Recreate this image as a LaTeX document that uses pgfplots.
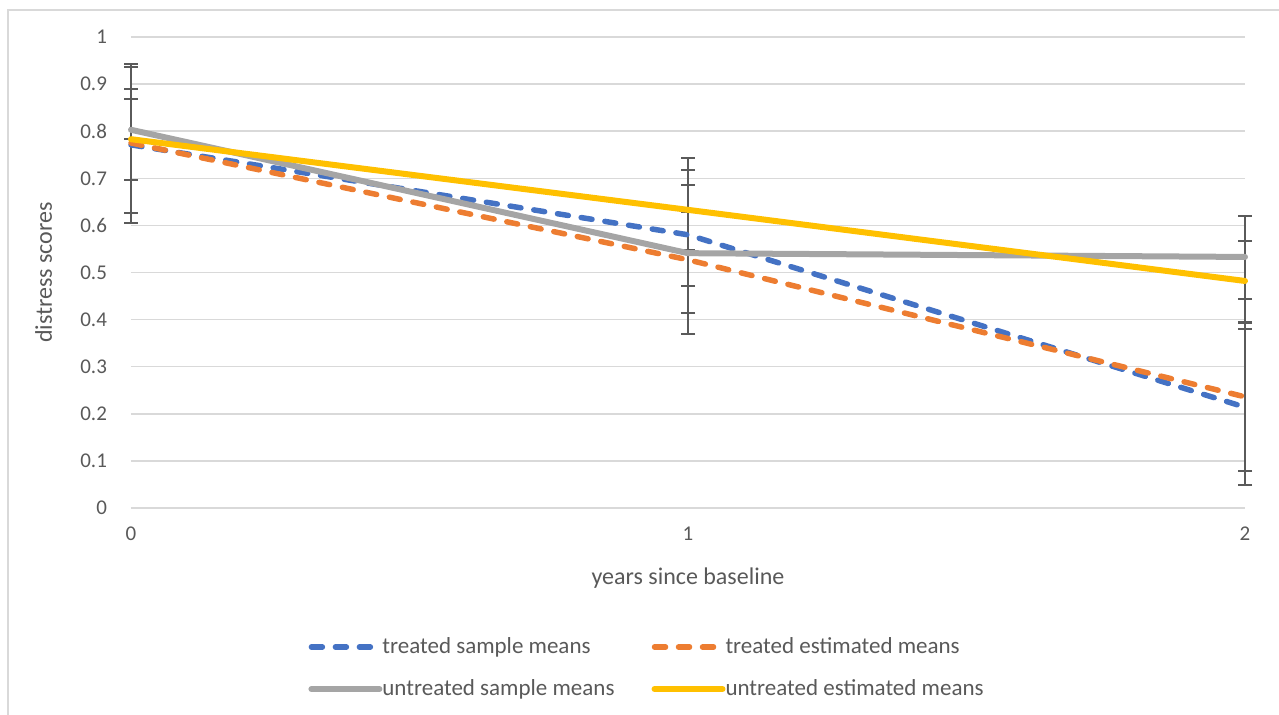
\documentclass[border=0pt]{standalone}
\usepackage{pgfplots}
\usepackage{pgfplotstable}
\pgfplotsset{compat=1.18}
\usepackage{fontspec}
\setmainfont{Carlito}

\definecolor{tsm}{HTML}{4472C4}
\definecolor{tem}{HTML}{ED7D31}
\definecolor{usm}{HTML}{A5A5A5}
\definecolor{uem}{HTML}{FFC000}
\definecolor{txt}{HTML}{595959}
\definecolor{gridc}{HTML}{D9D9D9}
\definecolor{errc}{HTML}{5A5A5A}

% mean distress scores with upper (ep) and lower (em) error lengths
\pgfplotstableread{
x y ep em
0 0.771 0.165 0.165
1 0.580 0.163 0.166
2 0.214 0.165 0.165
}\treatedsample
\pgfplotstableread{
x y ep em
0 0.775 0.168 0.149
1 0.527 0.159 0.158
2 0.236 0.158 0.158
}\treatedestimated
\pgfplotstableread{
x y ep em
0 0.803 0.087 0.020
1 0.541 0.088 0.070
2 0.533 0.087 0.089
}\untreatedsample
\pgfplotstableread{
x y ep em
0 0.783 0.085 0.087
1 0.633 0.085 0.086
2 0.482 0.085 0.089
}\untreatedestimated

\pgfplotsset{
  errstyle/.style={forget plot, draw=none, mark=none,
    error bars/.cd, y dir=both, y explicit,
    error bar style={draw=errc, line width=1pt, solid},
    error mark options={draw=errc, rotate=90, mark size=3.5pt, line width=1pt, solid}},
  dashedmean/.style={line width=2.75pt, line cap=round, dash pattern=on 5.5pt off 6.5pt},
}

\begin{document}
\begin{tikzpicture}
\useasboundingbox (0pt,0pt) rectangle (639.5pt,357.5pt);
\draw[color=gridc, line width=0.75pt] (4pt,-2pt) -- (4pt,352.5pt) -- (642pt,352.5pt);
\begin{axis}[
  at={(65.5pt,103.5pt)}, anchor=south west,
  scale only axis, width=557pt, height=235.5pt,
  xmin=0, xmax=2, ymin=0, ymax=1,
  clip=false,
  axis line style={draw=none},
  major tick length=0pt,
  xtick={0,1,2},
  ytick={0,0.1,0.2,0.3,0.4,0.5,0.6,0.7,0.8,0.9,1},
  ymajorgrids, grid style={color=gridc, line width=0.75pt},
  /pgf/number format/assume math mode=true,
  tick label style={font=\fontsize{10.5}{12}\selectfont, color=txt},
  yticklabel style={/pgf/number format/fixed, /pgf/number format/precision=1, anchor=east, xshift=-8.5pt},
  xticklabel style={yshift=-6pt},
  label style={font=\fontsize{12}{14}\selectfont, color=txt},
  xlabel={years since baseline},
  ylabel={distress scores},
  xlabel style={at={(axis description cs:0.5,-0.1486)}, anchor=center},
  ylabel style={at={(axis description cs:-0.0785,0.5)}, anchor=center},
  legend columns=2,
  legend cell align=left,
  legend image code/.code={\draw[#1] (0pt,0pt) -- (34pt,0pt);},
  legend style={at={(axis description cs:0.1589,-0.271)}, anchor=north west,
    draw=none, fill=none, inner sep=0pt, row sep=10pt, column sep=0pt,
    font=\fontsize{11.5}{13}\selectfont, text=txt,
    nodes={inner sep=0pt, text height=8.5pt, text depth=2.5pt},
    /tikz/every even column/.append style={column sep=18.5pt}},
]
% error bars
\addplot[errstyle] table[x=x, y=y, y error plus=ep, y error minus=em] {\treatedsample};
\addplot[errstyle] table[x=x, y=y, y error plus=ep, y error minus=em] {\treatedestimated};
\addplot[errstyle] table[x=x, y=y, y error plus=ep, y error minus=em] {\untreatedsample};
\addplot[errstyle] table[x=x, y=y, y error plus=ep, y error minus=em] {\untreatedestimated};
% mean lines
\addplot[color=tsm, dashedmean] table[x=x, y=y] {\treatedsample};
\addlegendentry{treated sample means}
\addplot[color=tem, dashedmean] table[x=x, y=y] {\treatedestimated};
\addlegendentry{treated estimated means}
\addplot[color=usm, line width=3pt, line cap=round] table[x=x, y=y] {\untreatedsample};
\addlegendentry{untreated sample means}
\addplot[color=uem, line width=3pt, line cap=round] table[x=x, y=y] {\untreatedestimated};
\addlegendentry{untreated estimated means}
\end{axis}
\end{tikzpicture}
\end{document}
